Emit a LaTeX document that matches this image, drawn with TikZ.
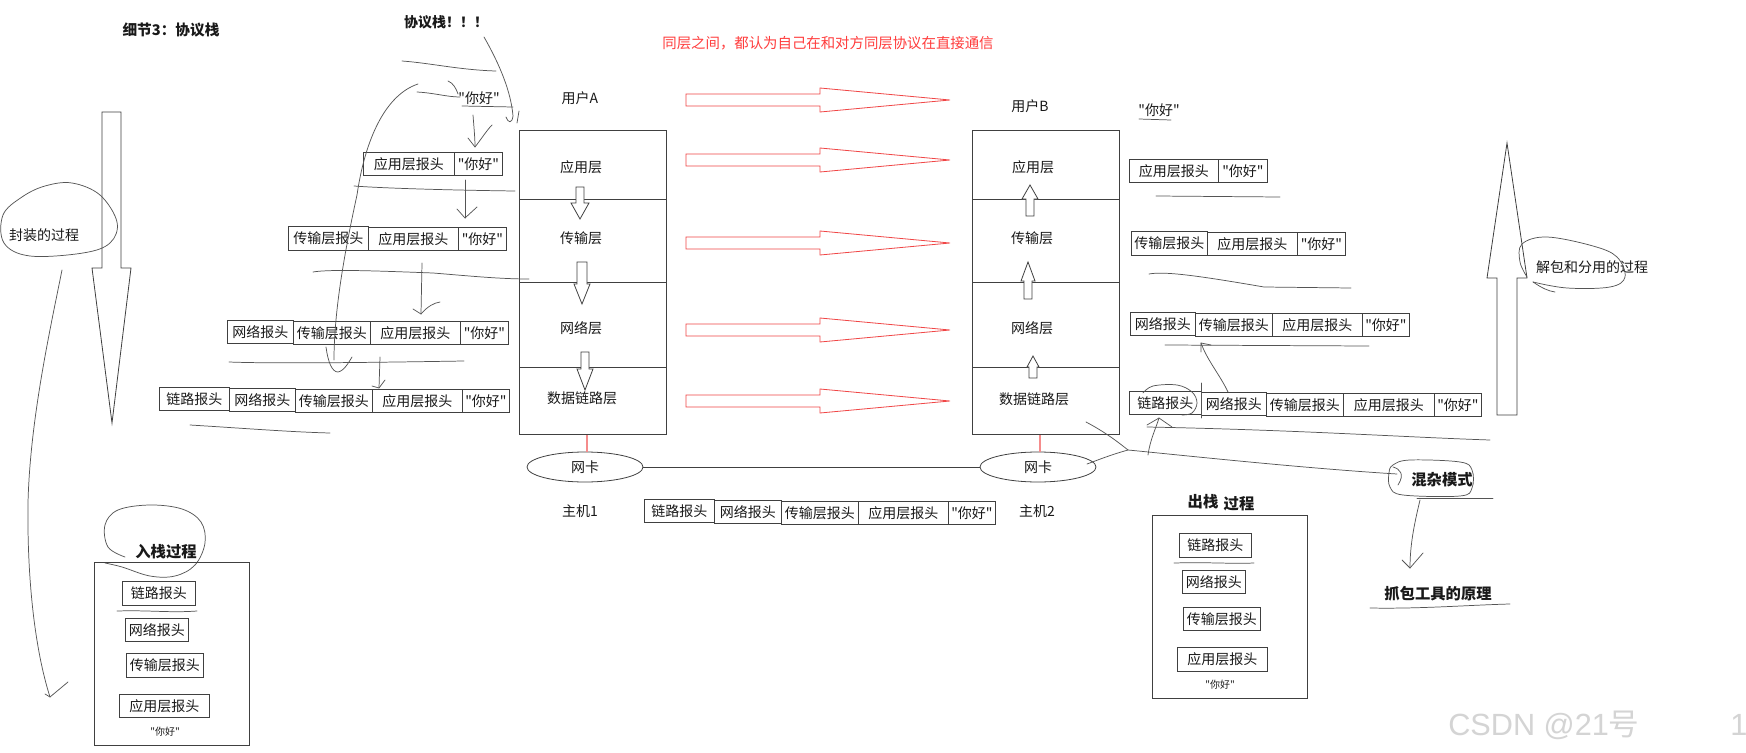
\documentclass[tikz,border=0pt]{standalone}
\usepackage{fontspec}
\setmainfont{Noto Sans CJK SC}[Ligatures=TeXOff]
\newfontfamily\wmfont{Liberation Sans}
\usetikzlibrary{shapes.geometric}
\definecolor{boxc}{RGB}{64,64,64}
\definecolor{handc}{RGB}{85,85,85}
\definecolor{txtc}{RGB}{25,25,25}
\definecolor{redc}{RGB}{240,70,70}
\definecolor{redt}{RGB}{255,60,60}
\definecolor{pinkc}{RGB}{245,140,140}
\definecolor{wmc}{RGB}{212,212,212}
\newcommand{\pc}[6]{\node[pcell, minimum width={(#3-#2)*0.75pt}, minimum height={(#5-#4)*0.75pt}, anchor=north west] (#1) at (#2,#4) {#6};}
\newcommand{\varw}[6]{\draw[harrow] (#1-#5,#2) -- (#1-#5,#3) -- (#1-#6,#3) -- (#1,#4) -- (#1+#6,#3) -- (#1+#5,#3) -- (#1+#5,#2) -- cycle;}
\newcommand{\rarw}[1]{\draw[rarrow] (686,#1-6) -- (820,#1-6) -- (820,#1-12) -- (950,#1) -- (820,#1+12) -- (820,#1+6) -- (686,#1+6) -- cycle;}
\tikzset{
 every node/.style={text=txtc},
 txt/.style={inner sep=0pt, font=\fontsize{10.5}{12}\selectfont},
 bld/.style={inner sep=0pt, font=\fontsize{11.5}{13}\selectfont\bfseries},
 pcell/.style={draw=boxc, line width=0.6pt, inner sep=0pt, font=\fontsize{10.5}{12}\selectfont},
 hand/.style={draw=handc, line width=0.55pt, line cap=round, line join=round},
 harrow/.style={draw=boxc, line width=0.6pt, fill=white},
 rarrow/.style={draw=redc, line width=0.6pt},
 nic/.style={draw=boxc, line width=0.6pt, ellipse, inner sep=0pt, minimum width={116*0.75pt}, minimum height={30*0.75pt}, font=\fontsize{10.5}{12}\selectfont},
 link/.style={draw=boxc, line width=0.6pt},
 pinkl/.style={draw=pinkc, line width=0.8pt},
}
\begin{document}
\begin{tikzpicture}[x=0.75pt,y=-0.75pt]
\fill[white] (0,0) rectangle (1746,753);
\useasboundingbox (0,0) rectangle (1746,753);

% titles
\node[bld, font=\fontsize{11}{13}\selectfont\bfseries] (title) at (171,30) {细节3：协议栈};
\node[bld, font=\fontsize{10.5}{12}\selectfont\bfseries] (stack) at (446,22) {协议栈！！！};
\node[txt, text=redt, font=\fontsize{10.8}{12}\selectfont] (peer) at (828,43) {同层之间，都认为自己在和对方同层协议在直接通信};
\node[txt] (userA) at (580,98) {用户A};
\node[txt] (userB) at (1030,106) {用户B};

% host A layers
\pc{A1}{519}{666}{130}{199}{}
\pc{A2}{519}{666}{199}{282}{}
\pc{A3}{519}{666}{282}{367}{}
\pc{A4}{519}{666}{367}{434}{}
\node[txt] (A1t) at (581,167) {应用层};
\node[txt] (A2t) at (581,238) {传输层};
\node[txt] (A3t) at (581,328) {网络层};
\node[txt] (A4t) at (582,398) {数据链路层};
\varw{580}{187}{203}{219}{4}{9}
\varw{582}{262}{284}{304}{5}{8}
\varw{585}{352}{369}{390}{4}{8}

% host B layers
\pc{B1}{972}{1119}{130}{199}{}
\pc{B2}{972}{1119}{199}{282}{}
\pc{B3}{972}{1119}{282}{367}{}
\pc{B4}{972}{1119}{367}{434}{}
\node[txt] (B1t) at (1033,167) {应用层};
\node[txt] (B2t) at (1032,238) {传输层};
\node[txt] (B3t) at (1032,328) {网络层};
\node[txt] (B4t) at (1034,399) {数据链路层};
\varw{1030}{216}{199}{185}{4}{8}
\varw{1028}{299}{281}{262}{4}{7}
\varw{1033}{378}{367}{356}{4}{6}

% red peer arrows
\rarw{100}
\rarw{160}
\rarw{243}
\rarw{330}
\rarw{401}

% network cards
\node[nic] (nicA) at (585,467) {网卡};
\node[nic] (nicB) at (1038,467) {网卡};
\draw[link] (nicA) -- (nicB);
\draw[pinkl] (nicA.north -| 587,0) -- (A4.south -| 587,0);
\draw[pinkl] (nicB.north -| 1040,0) -- (B4.south -| 1040,0);
\node[txt] (host1) at (580,511) {主机1};
\node[txt] (host2) at (1037,511) {主机2};

% bottom packet
\pc{w1}{644}{714}{499}{522}{链路报头}
\pc{w2}{714}{781}{500}{523}{网络报头}
\pc{w3}{781}{858}{501}{524}{传输层报头}
\pc{w4}{858}{948}{501}{524}{应用层报头}
\pc{w5}{948}{995}{501}{524}{"你好"}

% left encapsulation stack
\node[txt] (l0) at (479,98) {"你好"};
\pc{l21}{363}{454}{152}{175}{应用层报头}
\pc{l22}{454}{502}{152}{175}{"你好"}
\pc{l31}{288}{368}{226}{250}{传输层报头}
\pc{l32}{368}{458}{227}{250}{应用层报头}
\pc{l33}{458}{506}{227}{250}{"你好"}
\pc{l41}{227}{293}{320}{343}{网络报头}
\pc{l42}{293}{370}{321}{344}{传输层报头}
\pc{l43}{370}{460}{321}{344}{应用层报头}
\pc{l44}{460}{508}{321}{344}{"你好"}
\pc{l51}{159}{229}{387}{410}{链路报头}
\pc{l52}{229}{295}{388}{411}{网络报头}
\pc{l53}{295}{372}{389}{412}{传输层报头}
\pc{l54}{372}{462}{389}{412}{应用层报头}
\pc{l55}{462}{509}{389}{412}{"你好"}

% left small arrows
\draw[hand] (473,115) .. controls (474,128) and (475,138) .. (475,147);
\draw[hand] (468,138) -- (475,147) .. controls (482,138) and (487,130) .. (492,125);
\draw[hand] (465,180) -- (465,218);
\draw[hand] (457,209) -- (465,218) -- (477,207);
\draw[hand] (422,263) -- (421,314);
\draw[hand] (413,309) -- (421,314) .. controls (428,306) and (434,303) .. (440,302);
\draw[hand] (380,357) -- (379,388);
\draw[hand] (372,386) -- (379,388) -- (385,380);

% left hand-drawn strokes
\draw[hand] (402,61) .. controls (430,63) and (460,70) .. (496,71);
\draw[hand] (484,37) .. controls (500,65) and (511,92) .. (513,116) .. controls (512,124) and (508,123) .. (506,117);
\draw[hand] (519,111) -- (517,123);
\draw[hand] (417,92) .. controls (435,93) and (447,97) .. (460,97);
\draw[hand] (448,81) .. controls (453,83) and (456,88) .. (458,94);
\draw[hand] (462,106) -- (513,107);
\draw[hand] (418,84) .. controls (385,95) and (365,140) .. (357,195) .. controls (345,250) and (334,310) .. (334,360);
\draw[hand] (326,347) .. controls (328,362) and (332,372) .. (338,372) .. controls (344,371) and (349,362) .. (352,357);
\draw[hand] (354,186) .. controls (380,188) and (440,190) .. (515,191);
\draw[hand] (313,272) .. controls (330,269) and (380,271) .. (433,273) .. controls (470,276) and (500,279) .. (529,279);
\draw[hand] (229,362) .. controls (280,364) and (400,362) .. (464,361);
\draw[hand] (190,425) .. controls (240,428) and (290,432) .. (330,433);

% left big arrow & bubble
\draw[harrow] (102,112) -- (121,112) -- (121,268) -- (131,268) -- (112,423) -- (92,268) -- (102,268) -- cycle;
\node[txt] (encap) at (44,235) {封装的过程};
\draw[hand] plot[smooth cycle, tension=0.6] coordinates {(22,197) (45,186) (72,183) (100,195) (117,222) (110,243) (83,253) (30,256) (4,243) (3,215)};
\draw[hand] (62,270) .. controls (50,330) and (30,420) .. (28,503) .. controls (27,580) and (35,650) .. (50,697);
\draw[hand] (45,694) -- (50,697) -- (68,682);

% 入栈过程 box
\node[bld] (intitle) at (166,552) {入栈过程};
\draw[hand] plot[smooth, tension=0.6] coordinates {(125,557) (108,547) (105,525) (118,510) (150,505) (182,509) (201,522) (205,543) (195,565) (175,576) (150,576) (122,567) (105,563)};
\draw[link] (94,562) rectangle (249,745);
\pc{in1}{122}{195}{581}{605}{链路报头}
\pc{in2}{125}{188}{618}{641}{网络报头}
\pc{in3}{126}{203}{653}{677}{传输层报头}
\pc{in4}{119}{209}{694}{717}{应用层报头}
\node[txt, font=\fontsize{7.5}{9}\selectfont] (in5) at (165,732) {"你好"};
\draw[hand] (117,611) .. controls (150,610) and (170,613) .. (197,611);

% right decapsulation stack
\node[txt] (r0) at (1159,110) {"你好"};
\draw[hand] (1139,119) -- (1171,120);
\pc{r11}{1129}{1218}{159}{182}{应用层报头}
\pc{r12}{1218}{1267}{159}{182}{"你好"}
\pc{r21}{1131}{1207}{231}{255}{传输层报头}
\pc{r22}{1207}{1297}{232}{255}{应用层报头}
\pc{r23}{1297}{1345}{232}{255}{"你好"}
\pc{r31}{1130}{1195}{312}{335}{网络报头}
\pc{r32}{1195}{1272}{313}{336}{传输层报头}
\pc{r33}{1272}{1362}{313}{336}{应用层报头}
\pc{r34}{1362}{1409}{313}{336}{"你好"}
\pc{r41}{1129}{1201}{391}{414}{链路报头}
\pc{r42}{1201}{1266}{392}{415}{网络报头}
\pc{r43}{1266}{1343}{393}{416}{传输层报头}
\pc{r44}{1343}{1434}{393}{416}{应用层报头}
\pc{r45}{1434}{1481}{393}{416}{"你好"}
\draw[hand] (1156,196) -- (1280,197);
\draw[hand] (1149,274) .. controls (1165,271) and (1200,276) .. (1264,287) -- (1351,288);
\draw[hand] (1165,345) -- (1369,346);
\draw[hand] (1201,383) -- (1201,418);
\draw[hand] (1228,392) .. controls (1220,375) and (1207,360) .. (1201,343);
\draw[hand] (1211,345) -- (1201,343) -- (1201,352);
\draw[hand] plot[smooth, tension=0.6] coordinates {(1143,393) (1153,386) (1177,385) (1192,392) (1197,403) (1192,413) (1182,415)};
\draw[hand] (1147,427) .. controls (1300,430) and (1400,437) .. (1490,440);
\draw[hand] (1148,455) .. controls (1150,440) and (1156,428) .. (1159,418);
\draw[hand] (1147,425) -- (1159,418) -- (1172,427);
\draw[hand] (1086,422) .. controls (1105,432) and (1118,442) .. (1128,450);
\draw[hand] (1128,450) .. controls (1110,455) and (1098,460) .. (1087,464);
\draw[hand] (1128,450) .. controls (1180,455) and (1300,468) .. (1397,474);

% right big arrow & bubble
\draw[harrow] (1497,415) -- (1517,415) -- (1517,278) -- (1527,278) -- (1507,143) -- (1487,278) -- (1497,278) -- cycle;
\node[txt] (decap) at (1592,267) {解包和分用的过程};
\draw[hand] plot[smooth, tension=0.6] coordinates {(1527,277) (1520,262) (1522,244) (1547,237) (1593,246) (1617,257) (1625,277) (1610,287) (1567,288) (1533,282)};
\draw[hand] (1533,282) .. controls (1542,288) and (1548,291) .. (1555,292);

% promiscuous mode
\node[bld] (promisc) at (1442,480) {混杂模式};
\draw[hand] plot[smooth cycle, tension=0.6] coordinates {(1393,465) (1410,460) (1460,462) (1472,470) (1472,488) (1460,496) (1403,495) (1390,487) (1389,473)};
\draw[hand] (1393,467) .. controls (1400,469) and (1405,474) .. (1398,485);
\draw[hand] (1417,498) -- (1493,498);
\draw[hand] (1420,500) .. controls (1414,525) and (1410,545) .. (1410,568);
\draw[hand] (1402,560) -- (1410,568) -- (1423,553);
\node[bld] (capture) at (1438,594) {抓包工具的原理};
\draw[hand] (1370,608) .. controls (1420,609) and (1470,605) .. (1510,604);

% 出栈过程 box
\node[bld] (out1) at (1203,502) {出栈};
\node[bld] (out2) at (1239,504) {过程};
\draw[link] (1152,515) rectangle (1307,698);
\pc{o1}{1179}{1251}{533}{557}{链路报头}
\pc{o2}{1182}{1245}{570}{593}{网络报头}
\pc{o3}{1183}{1260}{607}{630}{传输层报头}
\pc{o4}{1177}{1267}{647}{671}{应用层报头}
\node[txt, font=\fontsize{7.5}{9}\selectfont] (o5) at (1220,685) {"你好"};
\draw[hand] (1174,563) .. controls (1210,562) and (1230,564) .. (1254,563);

% watermark
\node[inner sep=0pt, anchor=base west, text=wmc, font=\fontsize{23}{26}\selectfont] (wm) at (1448,735) {{\wmfont CSDN @21}号};
\node[inner sep=0pt, anchor=base west, text=wmc, font=\fontsize{23}{26}\selectfont\wmfont] (wm1) at (1730,735) {1};
\end{tikzpicture}
\end{document}
